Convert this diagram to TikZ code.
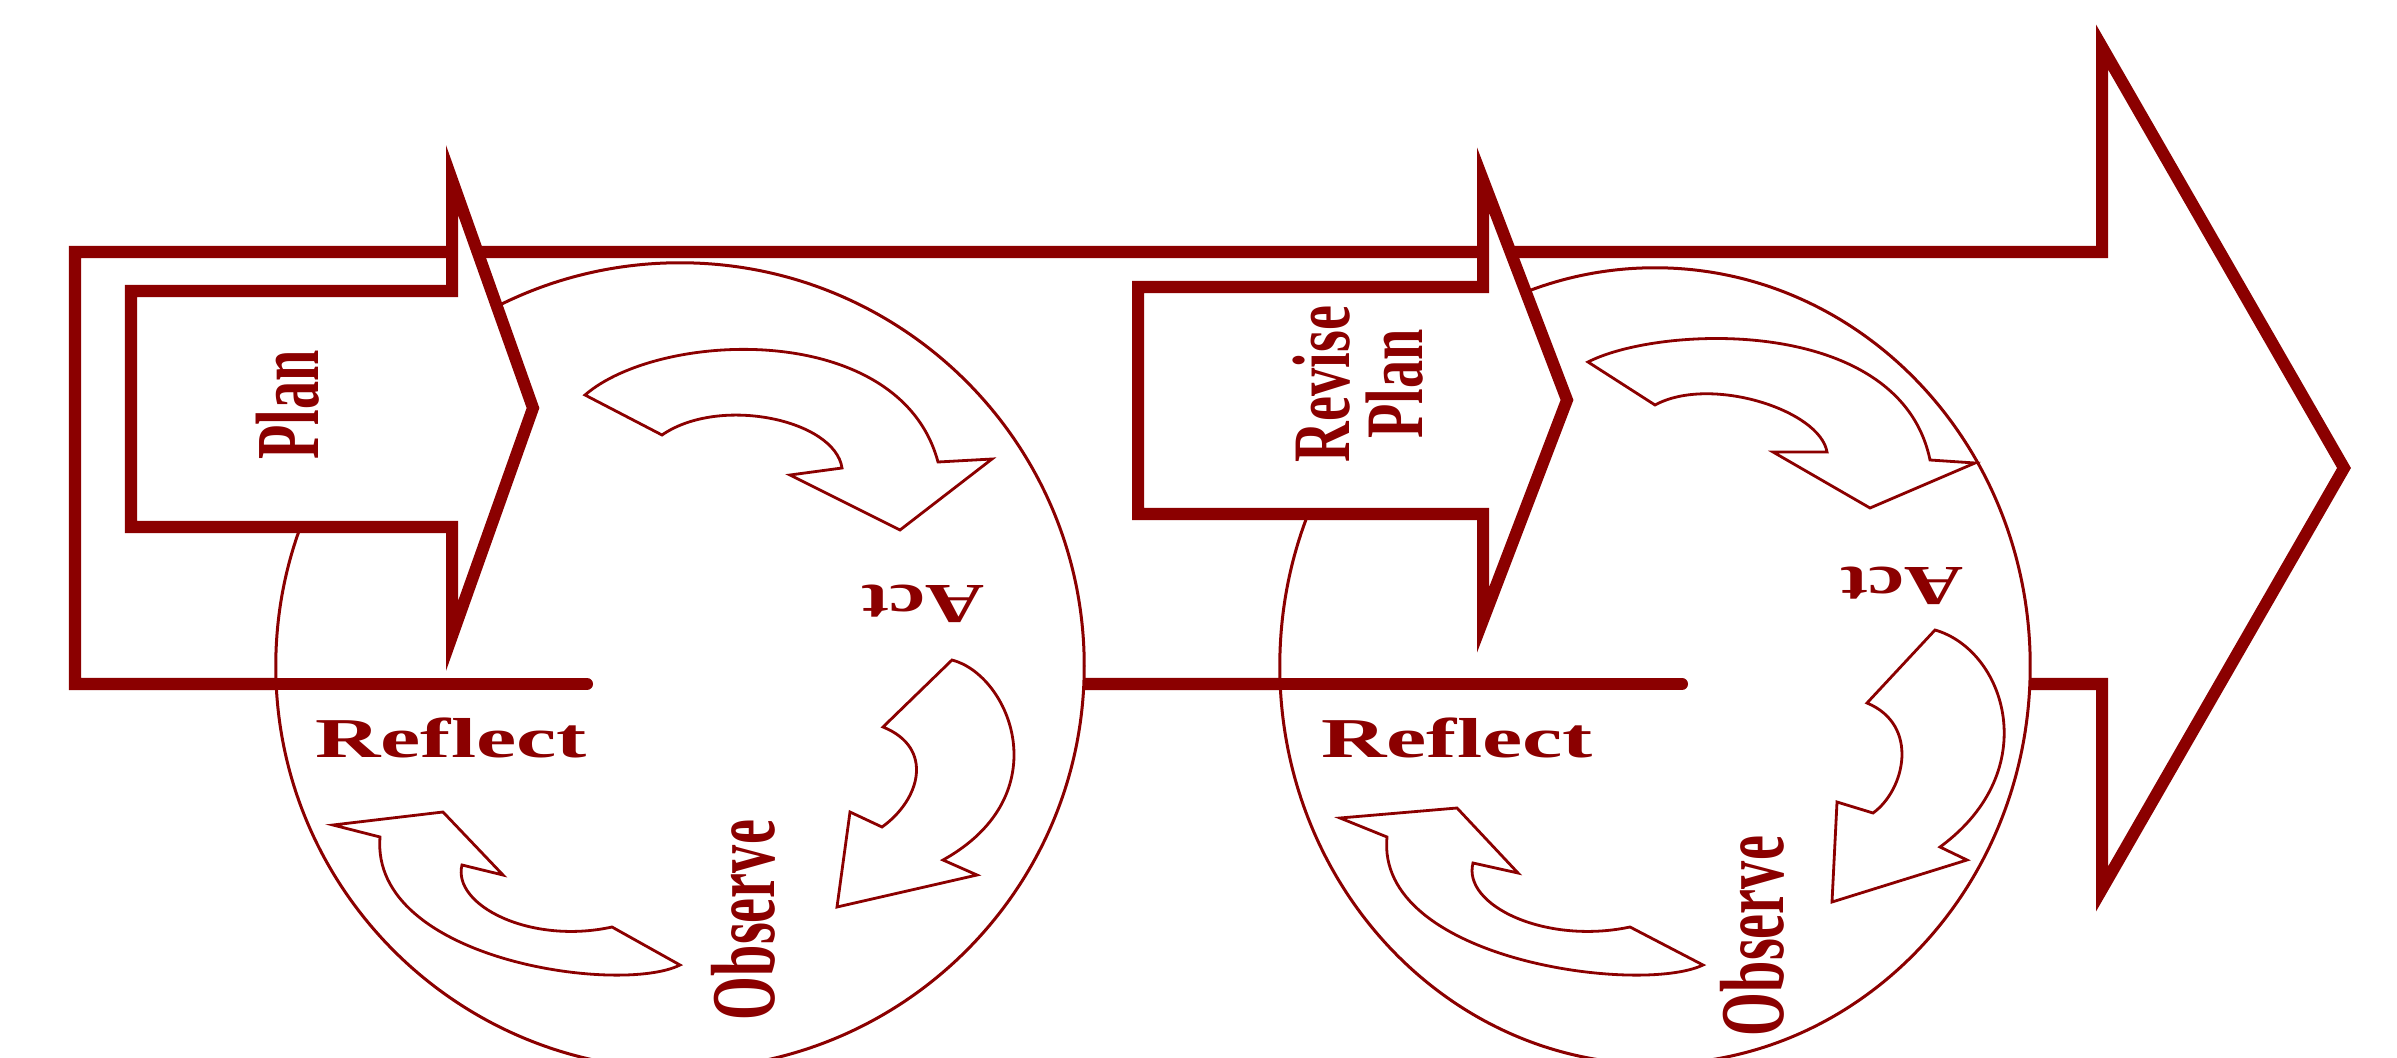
\documentclass[tikz,border=0pt]{standalone}
\usepackage{fontspec}
\setmainfont{Liberation Serif}
\usetikzlibrary{shapes.geometric}
\definecolor{cyclered}{RGB}{139,0,0}

\begin{document}
\begin{tikzpicture}[x=0.01cm,y=-0.01cm,
  heavy/.style={draw=cyclered,line width=1.2mm,fill=white,line join=miter},
  bar/.style={draw=cyclered,line width=1.2mm,line cap=round},
  ring/.style={draw=cyclered,line width=0.3mm,fill=white,ellipse,inner sep=0pt,outer sep=0pt},
  turn/.style={draw=cyclered,line width=0.28mm,fill=white,line join=miter},
  lbl/.style={text=cyclered,inner sep=0pt,font=\fontsize{16}{14.2}\selectfont\bfseries}]
\useasboundingbox (0,0) rectangle (2397,1058);
\clip (0,0) rectangle (2397,1058);

\draw[heavy] (75,252) -- (2102,252) -- (2102,47) -- (2344,468) -- (2102,889) -- (2102,684) -- (75,684) -- cycle;

\node[ring,minimum width=8.08cm,minimum height=8.06cm] (c1) at (680,666) {};
\node[ring,minimum width=7.5cm,minimum height=7.96cm] (c2) at (1655,666) {};

\coordinate (r1) at (587,684);
\coordinate (r2) at (1682,684);
\draw[bar] (c1.west |- r1) -- (r1);
\draw[bar] (c2.west |- r2) -- (r2);

\draw[heavy] (131,291) -- (452,291) -- (452,180) -- (533,408) -- (452,636) -- (452,527) -- (131,527) -- cycle;
\draw[heavy] (1138,287) -- (1483,287) -- (1483,180) -- (1567,400) -- (1483,620) -- (1483,514) -- (1138,514) -- cycle;

\draw[turn] (585,395) .. controls (660,330) and (900,320) .. (938,462) -- (992,459) -- (900,530) -- (790,475) -- (842,468) .. controls (835,420) and (720,395) .. (662,435) -- cycle;
\draw[turn] (952,660) .. controls (1010,675) and (1060,795) .. (943,860) -- (977,875) -- (837,907) -- (850,812) -- (882,827) .. controls (920,800) and (935,748) .. (883,727) -- cycle;
\draw[turn] (612,927) -- (680,965) .. controls (620,995) and (370,960) .. (380,837) -- (333,825) -- (443,812) -- (503,875) -- (462,865) .. controls (452,905) and (530,945) .. (612,927) -- cycle;

\draw[turn] (1588,362) .. controls (1660,325) and (1900,315) .. (1930,460) -- (1975,463) -- (1870,508) -- (1773,452) -- (1827,452) .. controls (1820,410) and (1710,375) .. (1655,405) -- cycle;
\draw[turn] (1935,630) .. controls (2005,650) and (2045,770) .. (1940,847) -- (1967,860) -- (1832,902) -- (1837,802) -- (1873,813) .. controls (1905,790) and (1920,725) .. (1867,703) -- cycle;
\draw[turn] (1630,927) -- (1703,965) .. controls (1640,995) and (1375,960) .. (1387,837) -- (1340,818) -- (1457,808) -- (1518,873) -- (1473,863) .. controls (1462,905) and (1545,945) .. (1630,927) -- cycle;

\node[lbl,rotate=90,yscale=1.6] (plan) at (288,405) {Plan};
\node[lbl,rotate=90,yscale=1.45,align=center] (revise) at (1358,384) {Revise\\Plan};
\node[lbl,xscale=1.61] (reflect1) at (451,738) {Reflect};
\node[lbl,xscale=1.61] (reflect2) at (1457,738) {Reflect};
\node[lbl,rotate=180,xscale=1.45] (act1) at (923,604) {Act};
\node[lbl,rotate=180,xscale=1.45] (act2) at (1902,586) {Act};
\node[lbl,rotate=90,yscale=1.62] (observe1) at (743,920) {Observe};
\node[lbl,rotate=90,yscale=1.62] (observe2) at (1752,936) {Observe};
\end{tikzpicture}
\end{document}
